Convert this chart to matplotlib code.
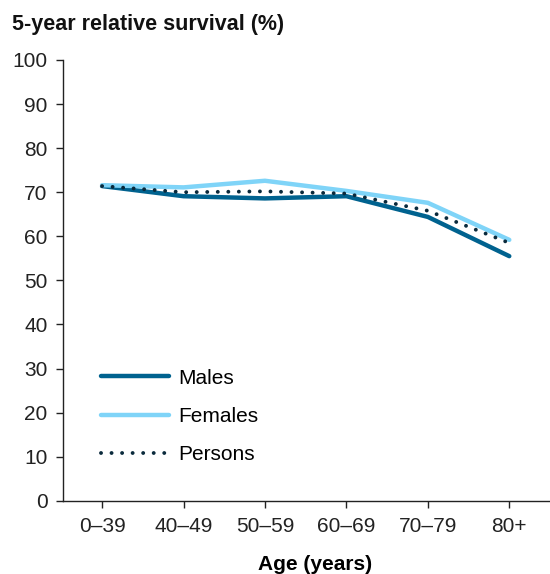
import matplotlib
matplotlib.use("Agg")
import matplotlib.pyplot as plt

# data
ages = ["0–39", "40–49", "50–59", "60–69", "70–79", "80+"]
males = [71.4, 69.1, 68.6, 69.1, 64.4, 55.5]
females = [71.6, 71.1, 72.6, 70.3, 67.6, 59.2]
persons = [71.4, 70.0, 70.2, 69.7, 65.8, 58.5]

plt.rcParams['font.family'] = ['Liberation Sans', 'DejaVu Sans']

fig = plt.figure(figsize=(5.5, 5.74), dpi=100)
ax = fig.add_axes([0.1145, 0.1275, 0.8855, 0.768])

x = range(len(ages))
ax.plot(x, males, color="#00628f", lw=3.2, label="Males", solid_capstyle="round")
ax.plot(x, females, color="#7fd4f8", lw=3.2, label="Females", solid_capstyle="round")
ax.plot(x, persons, color="#0a2a3c", lw=2.8, ls=(0, (0.01, 2.7)), label="Persons",
        dash_capstyle="round")

ax.set_xlim(-0.48, 5.5)
ax.set_ylim(0, 100)
ax.set_yticks(range(0, 101, 10))
ax.set_xticks(list(x))
ax.set_xticklabels(ages)
ax.tick_params(axis="both", labelsize=15, length=5, width=1, colors="#222222",
               labelcolor="#222222")
ax.tick_params(axis="x", pad=7)
ax.tick_params(axis="y", pad=6)

for s in ["top", "right"]:
    ax.spines[s].set_visible(False)
for s in ["left", "bottom"]:
    ax.spines[s].set_linewidth(1)
    ax.spines[s].set_color("#222222")

ax.set_xlabel("Age (years)", fontsize=15, fontweight="bold")
ax.xaxis.set_label_coords(0.518, -0.123)
ax.xaxis.label.set_va("top")
fig.text(0.022, 0.957, "5-year relative survival (%)", fontsize=15.5,
         fontweight="bold", ha="left", va="center", color="#111111")

ax.legend(loc="lower left", bbox_to_anchor=(0.039, 0.041), frameon=False,
          fontsize=15, handlelength=3.3, handletextpad=0.4, labelspacing=0.92)

fig.savefig("out.png", dpi=100)
